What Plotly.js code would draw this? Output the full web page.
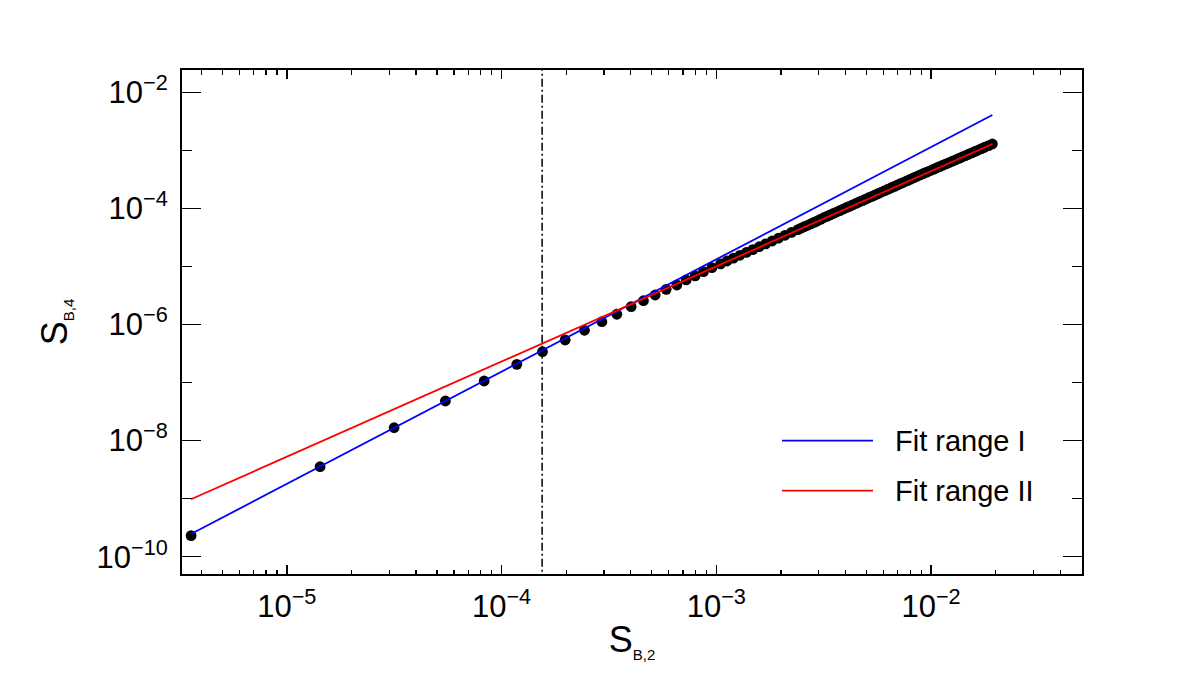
<!DOCTYPE html>
<html>
<head>
<meta charset="utf-8">
<script src="https://cdn.plot.ly/plotly-3.0.1.min.js"></script>
<style>html,body{margin:0;padding:0;background:#fff;}#chart{width:1200px;height:674px;}</style>
</head>
<body>
<div id="chart"></div>
<script>
// ---- data ----
const pointsX = [3.584e-6, 1.429e-5, 3.161e-5, 5.478e-5, 8.299e-5, 1.178e-4, 1.551e-4, 1.978e-4, 2.433e-4, 2.933e-4,
  3.443e-4, 4.015e-4, 4.580e-4, 5.193e-4, 5.844e-4, 6.553e-4, 7.240e-4, 7.973e-4, 8.717e-4, 9.539e-4,
  1.047e-3, 1.122e-3, 1.202e-3, 1.288e-3, 1.380e-3, 1.479e-3, 1.585e-3, 1.698e-3, 1.820e-3, 1.950e-3,
  2.089e-3, 2.239e-3, 2.399e-3, 2.570e-3, 2.754e-3, 2.951e-3, 3.162e-3, 3.388e-3, 3.631e-3, 3.890e-3,
  4.169e-3, 4.467e-3, 4.786e-3, 5.129e-3, 5.495e-3, 5.888e-3, 6.310e-3, 6.761e-3, 7.244e-3, 7.762e-3,
  8.318e-3, 8.913e-3, 9.550e-3, 1.023e-2, 1.096e-2, 1.175e-2, 1.259e-2, 1.349e-2, 1.445e-2, 1.549e-2,
  1.660e-2, 1.778e-2, 1.930e-2];
const pointsY = [2.301e-10, 3.548e-9, 1.667e-8, 4.808e-8, 1.064e-7, 2.061e-7, 3.396e-7, 5.408e-7, 7.943e-7, 1.117e-6,
  1.500e-6, 2.028e-6, 2.570e-6, 3.221e-6, 4.036e-6, 4.786e-6, 5.848e-6, 6.855e-6, 8.128e-6, 9.528e-6,
  1.107e-5, 1.242e-5, 1.390e-5, 1.556e-5, 1.742e-5, 1.954e-5, 2.188e-5, 2.449e-5, 2.742e-5, 3.076e-5,
  3.443e-5, 3.855e-5, 4.315e-5, 4.842e-5, 5.420e-5, 6.067e-5, 6.902e-5, 7.727e-5, 8.650e-5, 9.683e-5,
  1.086e-4, 1.216e-4, 1.361e-4, 1.524e-4, 1.710e-4, 1.914e-4, 2.143e-4, 2.399e-4, 2.692e-4, 3.013e-4,
  3.373e-4, 3.776e-4, 4.217e-4, 4.699e-4, 5.236e-4, 5.834e-4, 6.516e-4, 7.261e-4, 8.110e-4, 9.057e-4,
  1.012e-3, 1.130e-3, 1.288e-3];
// extra points where the tail becomes a dense band
const densePointsX = [2.483e-3, 2.661e-3, 2.851e-3, 3.055e-3, 3.273e-3, 3.508e-3, 3.758e-3, 4.027e-3, 4.315e-3, 4.624e-3,
  4.955e-3, 5.309e-3, 5.689e-3, 6.095e-3, 6.531e-3, 6.998e-3, 7.499e-3, 8.035e-3, 8.610e-3, 9.226e-3,
  9.886e-3, 1.059e-2, 1.135e-2, 1.216e-2, 1.303e-2, 1.396e-2, 1.496e-2, 1.603e-2, 1.718e-2, 1.854e-2];
const densePointsY = [4.571e-5, 5.117e-5, 5.741e-5, 6.471e-5, 7.295e-5, 8.166e-5, 9.162e-5, 1.026e-4, 1.148e-4, 1.288e-4,
  1.442e-4, 1.614e-4, 1.807e-4, 2.028e-4, 2.270e-4, 2.541e-4, 2.844e-4, 3.192e-4, 3.573e-4, 3.990e-4,
  4.446e-4, 4.966e-4, 5.534e-4, 6.166e-4, 6.871e-4, 7.674e-4, 8.570e-4, 9.572e-4, 1.069e-3, 1.208e-3];

const fitX = [3.58e-6, 1.93e-2];
const fitIY = [2.46e-10, 4.064e-3];
const fitIIY = [9.75e-10, 1.288e-3];

const vlineX = [1.545e-4, 1.545e-4];
const vlineY = [1e-11, 1];

const xTickVals = [1e-5, 1e-4, 1e-3, 1e-2];
const xTickText = ['10<sup>\u22125</sup>', '10<sup>\u22124</sup>', '10<sup>\u22123</sup>', '10<sup>\u22122</sup>'];
const yTickVals = [1e-10, 1e-8, 1e-6, 1e-4, 1e-2];
const yTickText = ['10<sup>\u221210</sup>', '10<sup>\u22128</sup>', '10<sup>\u22126</sup>', '10<sup>\u22124</sup>', '10<sup>\u22122</sup>'];
const yMinorVals = [1e-9, 1e-7, 1e-5, 1e-3];
const legendNames = ['Fit range I', 'Fit range II'];

// minor x ticks (2..9 in each decade)
const xMinorVals = [];
for (let e = -6; e <= -2; e++) for (let m = 2; m <= 9; m++) xMinorVals.push(m * Math.pow(10, e));

const FONT = 'Liberation Sans, Arial, Helvetica, sans-serif';

const traces = [
  {x: vlineX, y: vlineY, mode: 'lines', line: {color: '#000', width: 1.5, dash: '8px,3px,2px,3px'}, hoverinfo: 'skip', showlegend: false},
  {x: pointsX.concat(densePointsX), y: pointsY.concat(densePointsY), mode: 'markers', marker: {color: '#000', size: 10.8, line: {width: 0}}, showlegend: false},
  {x: fitX, y: fitIY, mode: 'lines', line: {color: '#0000ff', width: 1.8}, name: legendNames[0], showlegend: false},
  {x: fitX, y: fitIIY, mode: 'lines', line: {color: '#ff0000', width: 1.8}, name: legendNames[1], showlegend: false}
];

const L = 182, R = 1082, T = 70, B = 574;
const px = v => (v - L) / (R - L);
const py = v => (B - v) / (B - T);

const layout = {
  width: 1200, height: 674,
  margin: {l: L, r: 1200 - R, t: T, b: 674 - B, pad: 0},
  paper_bgcolor: '#fff', plot_bgcolor: '#fff',
  font: {family: FONT, color: '#000'},
  showlegend: false,
  xaxis: {
    type: 'log', range: [-5.488, -1.297],
    tickvals: xTickVals, ticktext: xTickText,
    ticks: 'inside', ticklen: 9, tickwidth: 1.5, tickcolor: '#000',
    minor: {tickvals: xMinorVals, ticks: 'inside', ticklen: 4.5, tickwidth: 1.2, tickcolor: '#000'},
    showline: true, linecolor: '#000', linewidth: 2, mirror: 'allticks',
    showgrid: false, zeroline: false,
    tickfont: {family: FONT, size: 31, color: '#000'},
    ticklabelstandoff: 4,
    title: {text: 'S<sub><span style="font-size:15px">B,2</span></sub>', font: {family: FONT, size: 36, color: '#000'}, standoff: 4}
  },
  yaxis: {
    type: 'log', range: [-10.298, -1.616],
    tickvals: yTickVals, ticktext: yTickText,
    ticks: 'inside', ticklen: 19, tickwidth: 1.5, tickcolor: '#000',
    minor: {tickvals: yMinorVals, ticks: 'inside', ticklen: 10, tickwidth: 1.5, tickcolor: '#000'},
    showline: true, linecolor: '#000', linewidth: 2, mirror: 'allticks',
    showgrid: false, zeroline: false,
    tickfont: {family: FONT, size: 31, color: '#000'},
    ticklabelstandoff: 6,
    title: {text: 'S<sub><span style="font-size:15px">B,4</span></sub>', font: {family: FONT, size: 36, color: '#000'}, standoff: 18}
  },
  shapes: [
    {type: 'line', xref: 'paper', yref: 'paper', x0: px(782), x1: px(873), y0: py(440.7), y1: py(440.7), line: {color: '#0000ff', width: 1.8}},
    {type: 'line', xref: 'paper', yref: 'paper', x0: px(782), x1: px(873), y0: py(490.7), y1: py(490.7), line: {color: '#ff0000', width: 1.8}}
  ],
  annotations: [
    {xref: 'paper', yref: 'paper', x: px(893), y: py(440.7), xanchor: 'left', yanchor: 'middle', text: legendNames[0], showarrow: false, font: {family: FONT, size: 29, color: '#000'}},
    {xref: 'paper', yref: 'paper', x: px(893), y: py(490.7), xanchor: 'left', yanchor: 'middle', text: legendNames[1], showarrow: false, font: {family: FONT, size: 29, color: '#000'}}
  ]
};

Plotly.newPlot('chart', traces, layout, {displayModeBar: false, staticPlot: true});
</script>
</body>
</html>
